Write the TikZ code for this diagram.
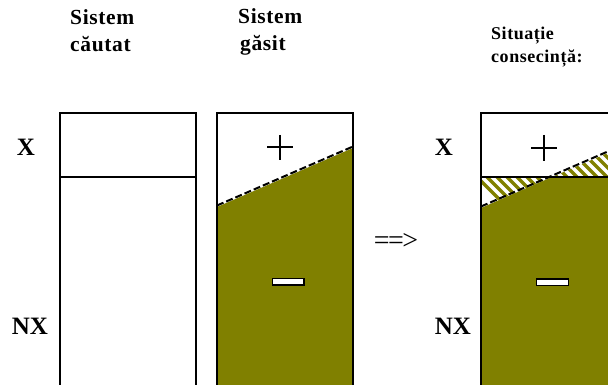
\documentclass[tikz,border=0pt]{standalone}
\usepackage{fontspec}
\setmainfont{Liberation Serif}
\newfontfamily\lsfont[LetterSpace=3]{Liberation Serif}
\definecolor{olivegreen}{HTML}{808000}
\tikzset{
  box/.style={draw=black, line width=2pt},
  title/.style={inner sep=0pt, anchor=base west, font=\lsfont\bfseries\fontsize{21.5}{21.5}\selectfont},
  smalltitle/.style={inner sep=0pt, anchor=base west, font=\lsfont\bfseries\fontsize{18}{18}\selectfont},
  axislabel/.style={inner sep=0pt, font=\bfseries\fontsize{25}{25}\selectfont},
  minusbox/.style={draw=black, fill=white, line width=1.5pt},
  plussign/.style={line width=2.5pt, black},
  slope/.style={draw=black, line width=2pt, dash pattern=on 7pt off 3pt},
  hatchline/.style={draw=olivegreen, line width=3.5pt}
}
\begin{document}
\begin{tikzpicture}[x=1pt, y=-1pt]
\useasboundingbox (0,0) rectangle (608,385);
\clip (0,0) rectangle (608,385);
\fill[white] (0,0) rectangle (608,385);

% titles
\node[title] (t1a) at (70,25) {Sistem};
\node[title] (t1b) at (70,52) {căutat};
\node[title] (t2a) at (238,24) {Sistem};
\node[title] (t2b) at (240,51) {găsit};
\node[smalltitle] (t3a) at (491,40) {Situație};
\node[smalltitle] (t3b) at (491,63) {consecință:};

% axis labels
\node[axislabel] (x1) at (26,147) {X};
\node[axislabel] (nx1) at (30,326) {NX};
\node[axislabel] (x3) at (444,147) {X};
\node[axislabel] (nx3) at (453,326) {NX};

% system 1
\draw[box] (60,113) rectangle (196,400);
\draw[box] (60,177) -- (196,177);

% system 2
\fill[olivegreen] (217,207) -- (353,148) -- (353,400) -- (217,400) -- cycle;
\draw[slope] (217,205.5) -- (353,146.5);
\draw[box] (217,113) rectangle (353,400);
\draw[plussign] (267,147) -- (293,147) (280,135) -- (280,160);
\draw[minusbox] (272.5,278.5) rectangle (304,285);

% implication
\node[inner sep=0pt, font=\fontsize{28}{28}\selectfont] (impl) at (396,241) {=\kern-1.5pt=\kern-1.5pt>};

% system 3
\begin{scope}
  \clip (481,177) -- (552,177) -- (481,208) -- cycle
        (552,177) -- (617,149) -- (617,177) -- cycle;
  \foreach \k in {0,10,...,200} {
    \draw[hatchline] (430+\k,130) -- (500+\k,200);
  }
\end{scope}
\fill[olivegreen] (481,208) -- (552,177) -- (617,177) -- (617,400) -- (481,400) -- cycle;
\draw[slope] (481,206.5) -- (617,147.5);
\draw[box] (481,113) rectangle (617,400);
\draw[box] (481,177) -- (617,177);
\draw[plussign] (531,148) -- (557,148) (544,135) -- (544,161);
\draw[minusbox] (536.5,279) rectangle (568.5,285.5);
\end{tikzpicture}
\end{document}
